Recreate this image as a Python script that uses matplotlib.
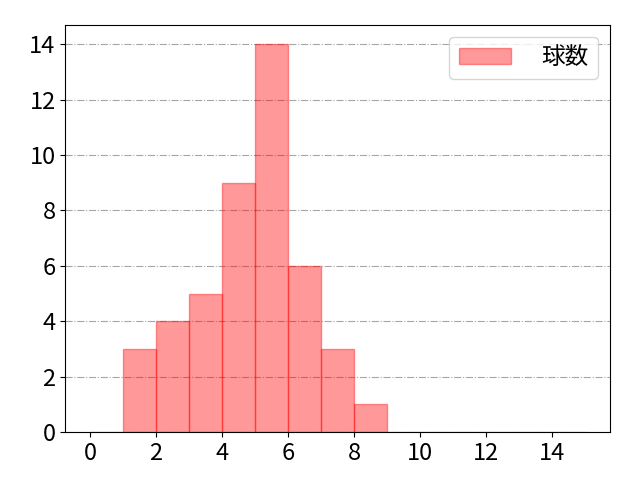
import matplotlib
matplotlib.use("Agg")
import matplotlib.pyplot as plt
import numpy as np

plt.rcParams['font.family'] = ['Noto Sans CJK JP', 'DejaVu Sans']

# 球数の分布
pitch_bins = [0, 1, 2, 3, 4, 5, 6, 7, 8, 9, 10, 11, 12, 13, 14, 15]
counts = [0, 3, 4, 5, 9, 14, 6, 3, 1, 0, 0, 0, 0, 0, 0]
x_ticks = [0, 2, 4, 6, 8, 10, 12, 14]
y_ticks = [0, 2, 4, 6, 8, 10, 12, 14]

centers = np.array(pitch_bins[:-1]) + 0.5

fig, ax = plt.subplots(figsize=(6.4, 4.8), dpi=100)
ax.hist(centers, bins=pitch_bins, weights=counts, color='red', alpha=0.4,
        edgecolor='red', linewidth=1, label='球数')
ax.grid(axis='y', linestyle='-.', color='gray', alpha=0.7)
ax.set_axisbelow(True)
ax.set_xticks(x_ticks)
ax.set_yticks(y_ticks)
ax.tick_params(labelsize=17)
ax.legend(fontsize=17, loc='upper right', handlelength=2.2, handletextpad=1.3)

fig.subplots_adjust(left=0.102, right=0.953, top=0.948, bottom=0.1)
plt.savefig('out.png')
